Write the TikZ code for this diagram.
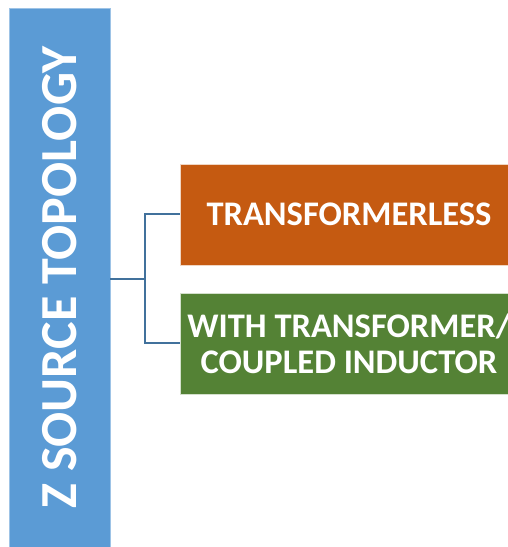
\documentclass[tikz,border=0pt]{standalone}
\usepackage{fontspec}
\setmainfont{Carlito}
\usepackage{graphicx}
\definecolor{zblue}{HTML}{5B9BD5}
\definecolor{zorange}{HTML}{C55A11}
\definecolor{zgreen}{HTML}{548235}
\definecolor{zline}{HTML}{41719C}
\tikzset{
  topbox/.style={fill=zblue, draw=zblue!60!white, line width=0.6pt, text=white,
    minimum width=101pt, minimum height=539pt, inner sep=0pt,
    font=\bfseries\fontsize{52}{52}\selectfont},
  kindbox/.style={draw=white!75!#1, line width=0.6pt, fill=#1, text=white,
    minimum width=338pt, minimum height=101pt, inner sep=0pt, align=center,
    font=\bfseries\fontsize{34.5}{35.5}\selectfont},
  link/.style={draw=zline, line width=2pt}
}
\begin{document}
\begin{tikzpicture}[x=1pt,y=1pt]
    \useasboundingbox (0,0) rectangle (508,547);
    \node[topbox] (bar) at (59.5,269.5) {\rotatebox{90}{Z SOURCE TOPOLOGY}};
    \node[kindbox=zorange] (tless) at (349,332.5) {TRANSFORMERLESS};
    \node[kindbox=zgreen] (wtrans) at (349,203.5) {WITH TRANSFORMER/\\COUPLED INDUCTOR};
    \coordinate (fork) at (145,268);
    \draw[link] (bar.east |- fork) -- (fork);
    \draw[link] (fork) |- (tless.west);
    \draw[link] (fork) |- (wtrans.west);
\end{tikzpicture}
\end{document}
